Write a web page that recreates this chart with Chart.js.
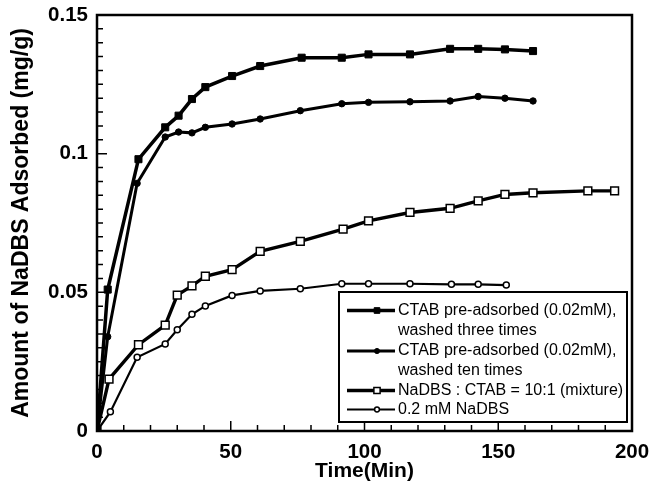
<!DOCTYPE html>
<html>
<head>
<meta charset="utf-8">
<script src="https://cdn.jsdelivr.net/npm/chart.js@4.4.0/dist/chart.umd.min.js"></script>
<style>
  html, body { margin: 0; padding: 0; background: #fff; }
  #wrap { width: 655px; height: 500px; }
</style>
</head>
<body>
<div id="wrap"><canvas id="chart" width="655" height="500"></canvas></div>
<script>
// time (min) and amount adsorbed (mg/g)
const timeThree = [0, 4, 15.5, 25.5, 30.5, 35.5, 40.5, 50.5, 61, 76.5, 91.5, 101.5, 117, 132, 142.5, 152.5, 163];
const valThree  = [0, 0.051, 0.098, 0.1095, 0.1137, 0.1197, 0.124, 0.128, 0.1316, 0.1346, 0.1346, 0.1358, 0.1358, 0.1378, 0.1378, 0.1376, 0.137];

const timeTen = [0, 4, 15, 25.5, 30.5, 35.5, 40.5, 50.5, 61, 76, 91.5, 101.5, 117, 132, 142.5, 152.5, 163];
const valTen  = [0, 0.034, 0.0893, 0.106, 0.1078, 0.1075, 0.1095, 0.1107, 0.1125, 0.1155, 0.118, 0.1185, 0.1187, 0.119, 0.1206, 0.12, 0.119];

const timeMix = [0, 4.5, 15.5, 25.5, 30, 35.5, 40.5, 50.5, 61, 76, 92, 101.5, 117, 132, 142.5, 152.5, 163, 183.5, 193.5];
const valMix  = [0, 0.0187, 0.0311, 0.0382, 0.049, 0.0523, 0.0558, 0.0582, 0.0648, 0.0684, 0.0728, 0.0758, 0.0788, 0.0803, 0.083, 0.0853, 0.0859, 0.0866, 0.0866];

const timeNa = [0, 5, 15, 25.5, 30, 35.5, 40.5, 50.5, 61, 76, 91.5, 101.5, 117, 132.5, 142.5, 153];
const valNa  = [0, 0.0069, 0.0266, 0.0314, 0.0365, 0.0421, 0.0451, 0.0489, 0.0505, 0.0513, 0.0531, 0.0531, 0.0531, 0.0529, 0.0529, 0.0526];

const seriesLabels = [
  ['CTAB pre-adsorbed (0.02mM),', 'washed three times'],
  ['CTAB pre-adsorbed (0.02mM),', 'washed ten times'],
  ['NaDBS : CTAB = 10:1 (mixture)'],
  ['0.2 mM NaDBS']
];

const xTicks = [0, 50, 100, 150, 200];
const yTicks = [0, 0.05, 0.1, 0.15];

const pts = (t, v) => t.map((x, i) => ({ x, y: v[i] }));

const styles = [
  { pointStyle: 'rect',   pointRadius: 5,   borderWidth: 3.5, fill: '#000', pbw: 1 },
  { pointStyle: 'circle', pointRadius: 3.2, borderWidth: 3,   fill: '#000', pbw: 1 },
  { pointStyle: 'rect',   pointRadius: 5.5, borderWidth: 3.4, fill: '#fff', pbw: 1.5 },
  { pointStyle: 'circle', pointRadius: 3,   borderWidth: 2.2, fill: '#fff', pbw: 1.5 }
];

const rawData = [[timeThree, valThree], [timeTen, valTen], [timeMix, valMix], [timeNa, valNa]];

const datasets = rawData.map((d, i) => ({
  label: seriesLabels[i].join(' '),
  data: pts(d[0], d[1]),
  borderColor: '#000',
  borderWidth: styles[i].borderWidth,
  pointStyle: styles[i].pointStyle,
  pointRadius: styles[i].pointRadius,
  pointBackgroundColor: styles[i].fill,
  pointBorderColor: '#000',
  pointBorderWidth: styles[i].pbw,
  tension: 0,
  fill: false
}));

// frame, inward ticks and boxed legend
const framePlugin = {
  id: 'framePlugin',
  afterDraw(chart) {
    const { ctx, chartArea: a, scales } = chart;
    const xs = scales.x, ys = scales.y;
    ctx.save();
    ctx.strokeStyle = '#000';
    ctx.lineWidth = 1.5;
    ctx.beginPath();
    for (let i = 0; i <= 20; i++) {
      const px = xs.getPixelForValue(i * 10);
      const len = i % 5 === 0 ? 10 : 6;
      ctx.moveTo(px, a.bottom);
      ctx.lineTo(px, a.bottom - len);
    }
    for (let i = 0; i <= 30; i++) {
      const py = ys.getPixelForValue(i * 0.005);
      const len = i % 10 === 0 ? 10 : 6;
      ctx.moveTo(a.left, py);
      ctx.lineTo(a.left + len, py);
    }
    ctx.stroke();
    ctx.lineWidth = 2.5;
    ctx.strokeRect(a.left, a.top, a.right - a.left, a.bottom - a.top);

    // legend box
    const bx = 339, by = 292, bw = a.right - 5 - bx, bh = a.bottom - 9 - by;
    ctx.fillStyle = '#fff';
    ctx.fillRect(bx, by, bw, bh);
    ctx.lineWidth = 2;
    ctx.strokeRect(bx, by, bw, bh);

    ctx.font = '16px "Liberation Sans", Arial, sans-serif';
    ctx.textBaseline = 'middle';
    ctx.textAlign = 'left';
    const rows = [310.5, 330.5, 351, 370.5, 390.5, 409.5];
    let r = 0;
    seriesLabels.forEach((lines, i) => {
      const y = rows[r];
      const ds = chart.data.datasets[i];
      ctx.strokeStyle = '#000';
      ctx.lineWidth = ds.borderWidth;
      ctx.beginPath();
      ctx.moveTo(347, y);
      ctx.lineTo(395, y);
      ctx.stroke();
      ctx.fillStyle = ds.pointBackgroundColor;
      ctx.lineWidth = ds.pointBorderWidth;
      Chart.helpers.drawPoint(ctx, {
        pointStyle: ds.pointStyle,
        radius: ds.pointRadius * 0.8,
        borderWidth: ds.pointBorderWidth
      }, 377, y);
      ctx.fillStyle = '#000';
      lines.forEach((t) => {
        ctx.fillText(t, 398, rows[r]);
        r++;
      });
    });
    ctx.restore();
  }
};

Chart.defaults.color = '#000';
Chart.defaults.font.family = '"Liberation Sans", Arial, sans-serif';

new Chart(document.getElementById('chart'), {
  type: 'line',
  data: { datasets },
  options: {
    responsive: false,
    animation: false,
    layout: { padding: { top: 15, right: 23, left: 0, bottom: 0 } },
    plugins: { legend: { display: false }, tooltip: { enabled: false } },
    scales: {
      x: {
        type: 'linear',
        min: 0,
        max: 200,
        afterBuildTicks: (s) => { s.ticks = xTicks.map(v => ({ value: v })); },
        afterFit: (s) => { s.height = 69; s.paddingLeft = 0; s.paddingRight = 0; },
        grid: { display: false, drawTicks: false },
        border: { display: false },
        ticks: { padding: 9, font: { size: 20.5, weight: 'bold' } },
        title: {
          display: true,
          text: 'Time(Min)',
          font: { size: 21, weight: 'bold' },
          padding: { top: 0, bottom: 16 }
        }
      },
      y: {
        type: 'linear',
        min: 0,
        max: 0.15,
        afterBuildTicks: (s) => { s.ticks = yTicks.map(v => ({ value: v })); },
        afterFit: (s) => { s.width = 97; s.paddingTop = 0; s.paddingBottom = 0; },
        grid: { display: false, drawTicks: false },
        border: { display: false },
        ticks: {
          padding: 9,
          font: { size: 20.5, weight: 'bold' },
          callback: (v) => String(+Number(v).toFixed(2))
        },
        title: {
          display: true,
          text: 'Amount of NaDBS Adsorbed (mg/g)',
          font: { size: 23, weight: 'bold' },
          padding: { top: 8, bottom: 0 }
        }
      }
    }
  },
  plugins: [framePlugin]
});
</script>
</body>
</html>
